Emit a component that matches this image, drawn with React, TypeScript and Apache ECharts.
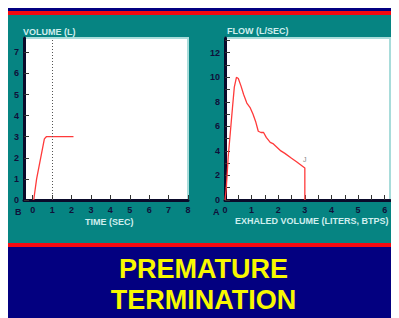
import React, { useEffect, useRef } from "react";
import * as echarts from "echarts";

// Panel B: volume-time curve
const timeSec = [0.05, 0.2, 0.41, 0.6, 0.7, 2.1];
const volumeL = [0, 1.0, 2.0, 2.9, 3.0, 3.0];
const timeTicks = [0, 1, 2, 3, 4, 5, 6, 7, 8];
const volTicks = [0, 1, 2, 3, 4, 5, 6, 7];
const markerTime = 1;

// Panel A: flow-volume curve
const exhaledVol = [0.0, 0.05, 0.12, 0.2, 0.28, 0.35, 0.43, 0.5, 0.6, 0.7, 0.82, 0.95, 1.05, 1.15, 1.25, 1.35, 1.45, 1.55, 1.7, 1.8, 1.95, 2.1, 2.25, 2.5, 2.7, 3.0, 3.0];
const flowLps = [0.0, 1.0, 3.5, 5.5, 7.5, 9.2, 10.0, 9.9, 9.3, 8.6, 7.9, 7.5, 7.0, 6.4, 5.6, 5.5, 5.5, 5.1, 4.7, 4.6, 4.3, 4.0, 3.8, 3.4, 3.1, 2.6, 0.0];
const exVolLabels = [0, 1, 2, 3, 4, 5, 6];
const exVolTicks = [0, 0.5, 1, 1.5, 2, 2.5, 3, 3.5, 4, 4.5, 5, 5.5, 6];
const flowLabels = [0, 2, 4, 6, 8, 10, 12];
const flowTicks = [0, 1, 2, 3, 4, 5, 6, 7, 8, 9, 10, 11, 12, 13];

const titleLines = ["PREMATURE", "TERMINATION"];

const TEAL = "#068482";
const NAVY = "#030080";
const RED = "#f50a10";
const AXIS = "#0a0a2a";
const LABEL = "#10103a";
const NAME = "#cfeeee";
const FONT = "'Liberation Sans', Arial, sans-serif";

export default function App() {
  const ref = useRef<HTMLDivElement>(null);
  useEffect(() => {
    if (!ref.current) return;
    const chart = echarts.init(ref.current, undefined, { renderer: "svg" });
    const axisCommon = (labels: number[], ticks: number[]) => ({
      axisLine: { show: true, onZero: false, lineStyle: { color: AXIS, width: 3 } },
      axisTick: { show: true, inside: true, length: 5, customValues: ticks, lineStyle: { color: "#333", width: 1 } },
      axisLabel: { show: true, customValues: labels, color: LABEL, fontSize: 9, fontWeight: "bold", fontFamily: FONT, margin: 5 },
      splitLine: { show: false },
    });
    chart.setOption({
      animation: false,
      backgroundColor: TEAL,
      textStyle: { fontFamily: FONT },
      grid: [
        { left: 16, top: 30, width: 164, height: 162, show: true, backgroundColor: "#ffffff", borderColor: "#a8dcda", borderWidth: 2 },
        { left: 217, top: 30, width: 165, height: 162, show: true, backgroundColor: "#ffffff", borderColor: "#a8dcda", borderWidth: 2 },
      ],
      xAxis: [
        { type: "value", gridIndex: 0, min: -0.45, max: 8, ...axisCommon(timeTicks, timeTicks) },
        { type: "value", gridIndex: 1, min: 0, max: 6.2, ...axisCommon(exVolLabels, exVolTicks) },
      ],
      yAxis: [
        { type: "value", gridIndex: 0, min: 0, max: 7.68, ...axisCommon(volTicks, volTicks) },
        { type: "value", gridIndex: 1, min: 0, max: 13.2, ...axisCommon(flowLabels, flowTicks) },
      ],
      series: [
        {
          type: "line",
          xAxisIndex: 0,
          yAxisIndex: 0,
          data: timeSec.map((t, i) => [t, volumeL[i]]),
          showSymbol: false,
          lineStyle: { color: "#ff3a3a", width: 1.3 },
          markLine: {
            silent: true,
            symbol: "none",
            label: { show: false },
            lineStyle: { color: "#555", type: [1, 2], width: 1 },
            data: [{ xAxis: markerTime }],
          },
        },
        {
          type: "line",
          xAxisIndex: 1,
          yAxisIndex: 1,
          data: exhaledVol.map((v, i) => [v, flowLps[i]]),
          showSymbol: false,
          lineStyle: { color: "#ff3a3a", width: 1.3 },
          markPoint: {
            silent: true,
            symbol: "circle",
            symbolSize: 0,
            label: { show: true, formatter: "J", color: "#888", fontSize: 7, offset: [0, -2] },
            data: [{ coord: [exhaledVol[25], flowLps[24]] }],
          },
        },
      ],
      graphic: [
        { type: "rect", shape: { x: 0, y: 0, width: 391, height: 3 }, style: { fill: NAVY } },
        { type: "rect", shape: { x: 0, y: 3, width: 391, height: 4 }, style: { fill: RED } },
        { type: "rect", shape: { x: 0, y: 235, width: 391, height: 4 }, style: { fill: RED } },
        { type: "rect", shape: { x: 0, y: 239, width: 391, height: 71 }, style: { fill: NAVY } },
        { type: "text", left: 7, top: 199, style: { text: "B", fill: LABEL, font: `bold 9px ${FONT}` } },
        { type: "text", left: 205, top: 199, style: { text: "A", fill: LABEL, font: `bold 9px ${FONT}` } },
        { type: "text", left: 15, top: 19, style: { text: "VOLUME (L)", fill: NAME, font: `bold 9px ${FONT}` } },
        { type: "text", left: 219, top: 18, style: { text: "FLOW (L/SEC)", fill: NAME, font: `bold 9px ${FONT}` } },
        { type: "text", left: 77, top: 209, style: { text: "TIME (SEC)", fill: NAME, font: `bold 9px ${FONT}` } },
        { type: "text", left: 227, top: 208, style: { text: "EXHALED VOLUME (LITERS, BTPS)", fill: NAME, font: `bold 9px ${FONT}` } },
        { type: "text", x: 195.5, y: 261, style: { text: titleLines[0], fill: "#f8f800", font: `bold 27px ${FONT}`, align: "center", verticalAlign: "middle" } },
        { type: "text", x: 195.5, y: 292, style: { text: titleLines[1], fill: "#f8f800", font: `bold 27px ${FONT}`, align: "center", verticalAlign: "middle" } },
      ],
    });
    return () => chart.dispose();
  }, []);
  return <div ref={ref} style={{ width: 391, height: 310 }} />;
}
